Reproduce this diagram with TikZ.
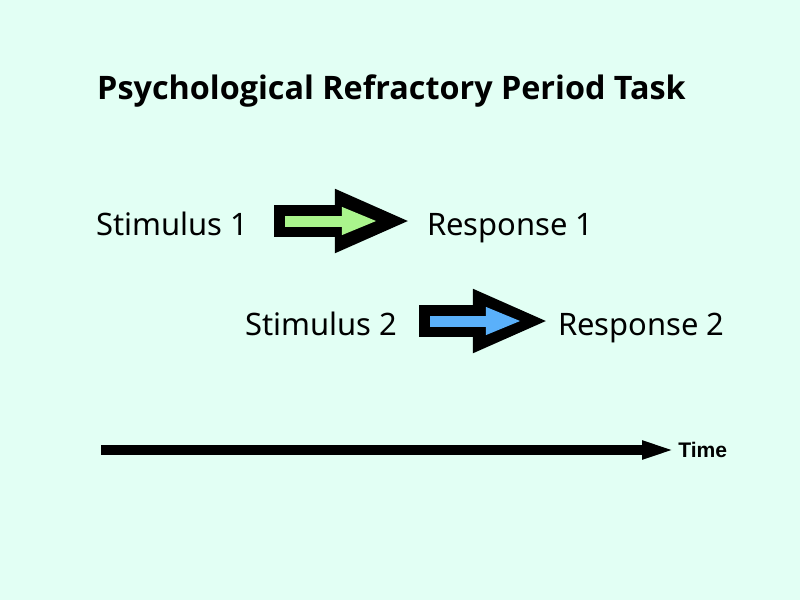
\documentclass[tikz,border=0pt]{standalone}
\usepackage{fontspec}
\setmainfont{Noto Sans}
\newfontfamily\titlefont{Open Sans}
\newfontfamily\timefont{Liberation Sans}
\usetikzlibrary{arrows.meta}
\definecolor{bgmint}{RGB}{226,255,244}
\definecolor{stimgreen}{RGB}{170,245,140}
\definecolor{stimblue}{RGB}{90,176,250}

\begin{document}
\begin{tikzpicture}[x=0.025cm, y=-0.025cm,
    lbl/.style={inner sep=0pt, anchor=west, text height=0.7cm, text depth=0pt, font=\fontsize{22pt}{26pt}\selectfont},
    outerarrow/.style={line width=0.8cm, -{Triangle[length=1.9cm, width=1.45cm]}},
    innerarrow/.style={line width=0.275cm, -{Triangle[length=0.9cm, width=0.625cm]}}]
    % background
    \fill[bgmint] (0,0) rectangle (800,600);

    % title
    \node[font=\titlefont\bfseries\fontsize{23pt}{27pt}\selectfont, anchor=base, inner sep=0pt] (title) at (391.5, 99) {Psychological Refractory Period Task};

    % stimuli and responses
    \node[lbl] (s1) at (96, 221) {Stimulus 1};
    \node[lbl] (r1) at (427, 221) {Response 1};
    \node[lbl] (s2) at (245, 321) {Stimulus 2};
    \node[lbl] (r2) at (558, 321) {Response 2};

    % block arrows
    \draw[outerarrow, shorten <=0.65cm, shorten >=0.4cm] (s1) -- (r1);
    \draw[innerarrow, stimgreen, shorten <=0.925cm, shorten >=1.225cm] (s1) -- (r1);
    \draw[outerarrow, shorten <=0.55cm, shorten >=0.225cm] (s2) -- (r2);
    \draw[innerarrow, stimblue, shorten <=0.825cm, shorten >=0.9cm] (s2) -- (r2);

    % time axis
    \node[font=\timefont\bfseries\fontsize{15pt}{17pt}\selectfont, anchor=base west, inner sep=0pt] (tm) at (678, 457) {Time};
    \coordinate (t0) at (101, 450);
    \draw[line width=0.25cm, -{Triangle[length=0.9cm, width=0.4cm]}] (t0) -- (t0 -| tm.west);
\end{tikzpicture}
\end{document}
